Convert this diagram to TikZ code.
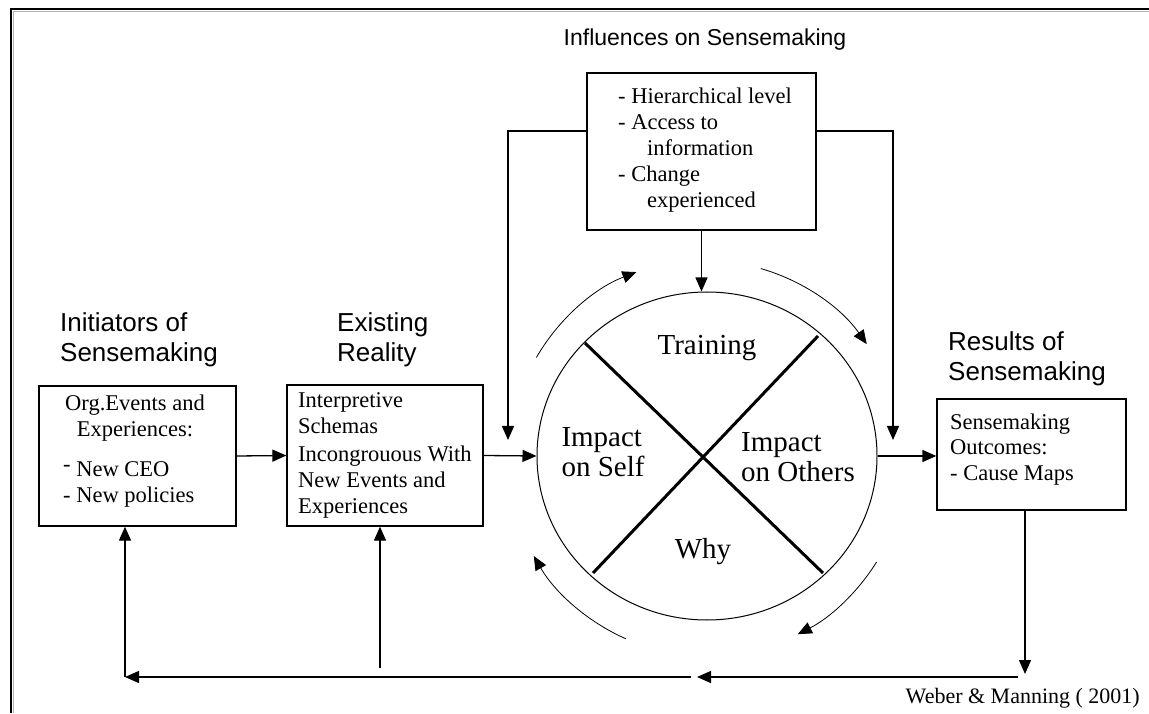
\documentclass[tikz,border=0pt]{standalone}
\usepackage{fontspec}
\setmainfont{Liberation Serif}
\setsansfont{Liberation Sans}
\usetikzlibrary{arrows.meta,shapes.geometric}
\begin{document}
\begin{tikzpicture}[x=1pt,y=1pt,
  tip/.style={-{Triangle[length=14pt,width=12pt]}},
  conn/.style={line width=1.3pt, tip},
  arcarrow/.style={line width=0.8pt, tip},
  box/.style={draw, line width=1.3pt, inner sep=0pt},
  head/.style={font=\sffamily\fontsize{26}{30}\selectfont, align=left, inner sep=0pt, anchor=base west},
  body/.style={font=\fontsize{22.5}{26}\selectfont, inner sep=0pt},
  big/.style={font=\fontsize{29}{30}\selectfont, inner sep=0pt},
  cross/.style={line width=3pt}]
\useasboundingbox (0,0) rectangle (1149,713);
\fill[white] (0,0) rectangle (1149,713);
% frame
\draw[gray!60, line width=1pt] (13.8,0) -- (13.8,701.3) -- (1149,701.3);
\draw[line width=2.2pt] (11,0) -- (11,704) -- (1149,704);

% title
\node[font=\sffamily\fontsize{23}{28}\selectfont] (title) at (705,673) {Influences on Sensemaking};

% influences box
\node[box, minimum width=229pt, minimum height=157pt] (infl) at (701.5,561.5) {};
\node[body, align=left, anchor=base west] (infltxt) at (618,505) {- Hierarchical level\\- Access to\\\hspace*{29pt}information\\- Change\\\hspace*{29pt}experienced};

% circle
\node[draw, ellipse, line width=1pt, minimum width=340pt, minimum height=328pt, inner sep=0pt] (circ) at (707,257) {};
\draw[cross] (585,370) -- (823,140);
\draw[cross] (818,377) -- (593,140);
\node[big] (train) at (707,365) {Training};
\node[big, align=left] (self) at (603,261) {Impact\\on Self};
\node[big, align=left] (others) at (798,256) {Impact\\on Others};
\node[big] (why) at (703,161) {Why};

% circular arrows
\draw[arcarrow] (707,257) ++(150:197) arc[start angle=150, end angle=111, radius=197];
\draw[arcarrow] (707,257) ++(74:195) arc[start angle=74, end angle=35, radius=195];
\draw[arcarrow] (707,257) ++(-32:200) arc[start angle=-32, end angle=-63, radius=200];
\draw[arcarrow] (707,257) ++(-114:200) arc[start angle=-114, end angle=-150, radius=200];

% headers
\node[head] (h1) at (60,351) {Initiators of\\Sensemaking};
\node[head] (h2) at (337,351) {Existing\\Reality};
\node[head] (h3) at (948,332) {Results of\\Sensemaking};

% boxes
\node[box, minimum width=197pt, minimum height=140pt] (init) at (137.5,257) {};
\node[box, minimum width=196pt, minimum height=141pt] (exist) at (385,257.5) {};
\node[box, minimum width=189pt, minimum height=111pt] (res) at (1031.5,258.5) {};

\node[body, align=center, anchor=base] (t1) at (135,276) {Org.Events and\\Experiences:};
\node[body, align=left, anchor=base west] (t2) at (63,211) {\raisebox{5pt}{-} New CEO\\- New policies};
\node[body, align=left, anchor=base west] (t3) at (298,279) {Interpretive\\Schemas};
\node[body, align=left, anchor=base west] (t4) at (298,200) {Incongrouous With\\New Events and\\Experiences};
\node[body, align=left, anchor=base west] (t5) at (950,232) {Sensemaking\\Outcomes:\\- Cause Maps};
\node[body, font=\fontsize{22}{24}\selectfont, anchor=base east] (cite) at (1140,10) {Weber \& Manning ( 2001)};

% connectors
\coordinate (lin) at (508,273);
\coordinate (rin) at (893,273);
\draw[conn] (infl.west |- 0,582) -- (508,582) -- (lin);
\draw[conn] (infl.east |- 0,582) -- (893,582) -- (rin);
\draw[conn] (infl.south) -- (infl.south |- circ.north);
\draw[conn] (init.east) -- (exist.west);
\draw[conn] (exist.east) -- (circ.west);
\draw[conn] (circ.east) -- (res.west |- circ.east);

\coordinate (b1) at (1025,39);
\coordinate (b2) at (1018,36);
\coordinate (mid) at (697,36);
\coordinate (b3) at (691,36);
\coordinate (corner) at (125,36);
\coordinate (b4) at (380,45);
\draw[conn] (res.south -| b1) -- (b1);
\draw[conn] (b2) -- (mid);
\draw[conn] (b3) -- (corner);
\draw[conn] (corner) -- (init.south -| corner);
\draw[conn] (b4) -- (exist.south -| b4);
\end{tikzpicture}
\end{document}
